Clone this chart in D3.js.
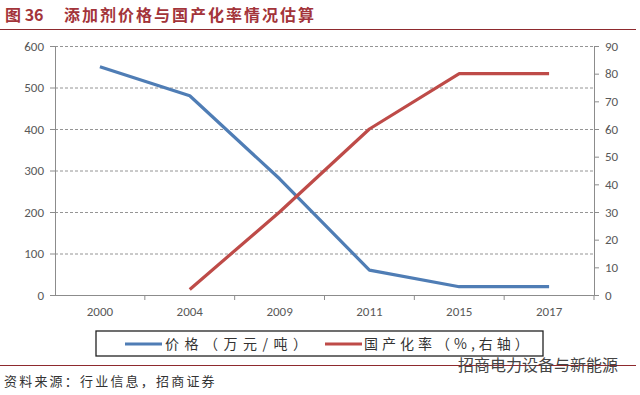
<!DOCTYPE html>
<html><head><meta charset="utf-8">
<script src="https://cdn.jsdelivr.net/npm/d3@7"></script>
<style>body{margin:0;background:#fff;} svg{display:block;}</style>
</head><body>
<script>
const categories = ["2000","2004","2009","2011","2015","2017"];
const priceValues = [550, 480, 280, 60, 20, 20];
const localRateValues = [null, 2, 30, 60, 80, 80];
const leftTicks = [0,100,200,300,400,500,600];
const rightTicks = [0,10,20,30,40,50,60,70,80,90];
const figLabel = "图 36";
const titleText = "添加剂价格与国产化率情况估算";
const legendLabels = ["价格（万元/吨）", "国产化率（%,右轴）"];
const sourceText = "资料来源：行业信息，招商证券";
const watermarkText = "招商电力设备与新能源";

const W = 640, H = 395;
const svg = d3.select("body").append("svg").attr("width", W).attr("height", H);
const L = 55, R = 594, T = 46, B = 295;
const blue = "#4F7DB5", red = "#BE4B48";
const axisFont = "Calibri, Carlito, 'Liberation Sans', 'DejaVu Sans', sans-serif";
const cjk = "'Noto Sans CJK SC', sans-serif";

// title
svg.append("text").attr("x", 5).attr("y", 21).attr("fill", "#A3343A")
  .attr("font-family", cjk).attr("font-size", 16).attr("font-weight", "bold").text(figLabel);
svg.append("text").attr("x", 64).attr("y", 21).attr("fill", "#A3343A")
  .attr("font-family", cjk).attr("font-size", 16).attr("font-weight", "bold")
  .attr("letter-spacing", 2).text(titleText);
svg.append("line").attr("x1", 0).attr("x2", 636).attr("y1", 29.5).attr("y2", 29.5)
  .attr("stroke", "#8E2A2E").attr("stroke-width", 1.2);

const x = d3.scaleBand().domain(categories).range([L, R]);
const yL = d3.scaleLinear().domain([0, 600]).range([B, T]);
const yR = d3.scaleLinear().domain([0, 90]).range([B, T]);

// gridlines
svg.append("g").selectAll("line").data(leftTicks.filter(d => d > 0)).join("line")
  .attr("x1", L).attr("x2", R).attr("y1", d => yL(d) + 0.5).attr("y2", d => yL(d) + 0.5)
  .attr("stroke", "#7a7a7a").attr("stroke-width", 0.8).attr("stroke-dasharray", "3,2");

// axes
const gL = svg.append("g").attr("transform", `translate(${L},0)`)
  .call(d3.axisLeft(yL).tickValues(leftTicks).tickSize(5).tickPadding(6));
const gR = svg.append("g").attr("transform", `translate(${R},0)`)
  .call(d3.axisRight(yR).tickValues(rightTicks).tickSize(5).tickPadding(6));
const gX = svg.append("g").attr("transform", `translate(0,${B})`)
  .call(d3.axisBottom(x).tickSize(0).tickPadding(12));
// band boundary ticks
svg.append("g").selectAll("line").data(categories.slice(1).concat(["__end"])).join("line")
  .attr("x1", d => d === "__end" ? R : x(d)).attr("x2", d => d === "__end" ? R : x(d))
  .attr("y1", B).attr("y2", B + 5).attr("stroke", "#8c8c8c");

[gL, gR, gX].forEach(g => {
  g.selectAll("path.domain").attr("stroke", "#8c8c8c");
  g.selectAll(".tick line").attr("stroke", "#8c8c8c");
  g.selectAll("text").attr("fill", "#595959").attr("font-family", axisFont).attr("font-size", 13);
});
gX.select("path.domain").attr("d", `M${L},0.5H${R}`);

// lines
const cx = d => x(d) + x.bandwidth() / 2;
const priceLine = d3.line().x((d, i) => cx(categories[i])).y(d => yL(d));
svg.append("path").datum(priceValues).attr("d", priceLine)
  .attr("fill", "none").attr("stroke", blue).attr("stroke-width", 3.2).attr("stroke-linejoin", "round");
const rateLine = d3.line().defined(d => d !== null).x((d, i) => cx(categories[i])).y(d => yR(d));
svg.append("path").datum(localRateValues).attr("d", rateLine)
  .attr("fill", "none").attr("stroke", red).attr("stroke-width", 3.2).attr("stroke-linejoin", "round");

// legend
svg.append("rect").attr("x", 96).attr("y", 331).attr("width", 447).attr("height", 25)
  .attr("fill", "#fff").attr("stroke", "#222").attr("stroke-width", 1.3);
const leg = [{c: blue, x1: 125, x2: 162, tx: 165, t: legendLabels[0], ls: 5.5},
             {c: red, x1: 325, x2: 362, tx: 364, t: legendLabels[1], ls: 4}];
leg.forEach(l => {
  svg.append("line").attr("x1", l.x1).attr("x2", l.x2).attr("y1", 344).attr("y2", 344)
    .attr("stroke", l.c).attr("stroke-width", 3.2);
  svg.append("text").attr("x", l.tx).attr("y", 349).attr("fill", "#333")
    .attr("font-family", cjk).attr("font-size", 14).attr("letter-spacing", l.ls).text(l.t);
});

// footer
svg.append("line").attr("x1", 0).attr("x2", 636).attr("y1", 365.5).attr("y2", 365.5)
  .attr("stroke", "#8E2A2E").attr("stroke-width", 1);
svg.append("text").attr("x", 458).attr("y", 371).attr("fill", "#444")
  .attr("font-family", cjk).attr("font-size", 16).text(watermarkText);
svg.append("text").attr("x", 4).attr("y", 386).attr("fill", "#333")
  .attr("font-family", cjk).attr("font-size", 13).attr("letter-spacing", 2.2).text(sourceText);
</script>
</body></html>
